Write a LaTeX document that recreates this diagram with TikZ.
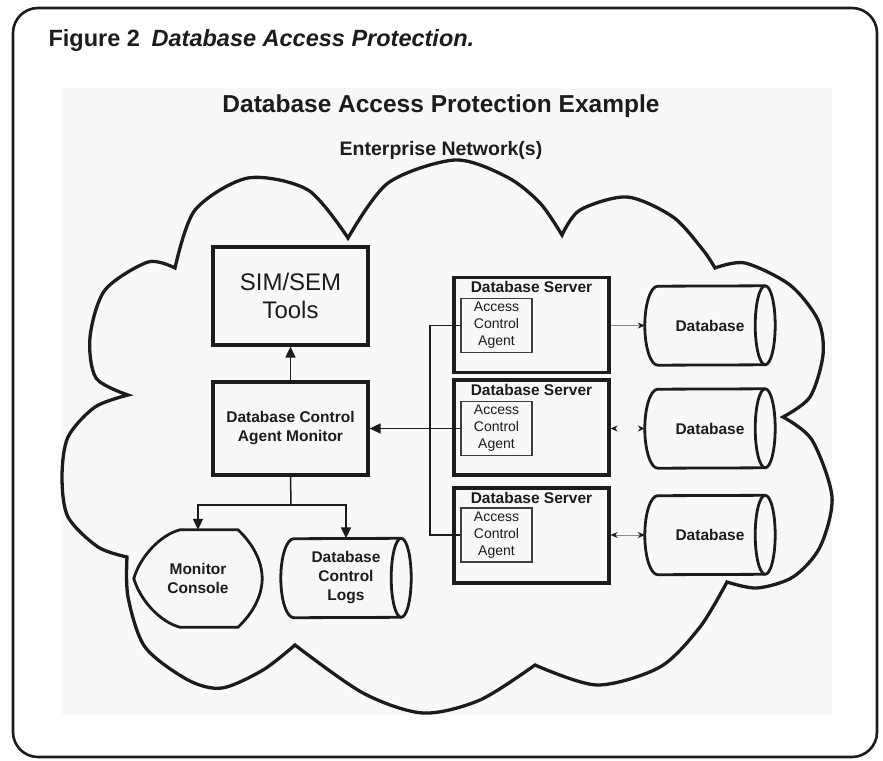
\documentclass[tikz,border=0pt]{standalone}
\usepackage{fontspec}
\setmainfont{Liberation Sans}
\usepackage{xcolor}
\usetikzlibrary{arrows.meta,shapes.geometric,calc,positioning}
\definecolor{ink1}{RGB}{28,28,28}
\definecolor{panel1}{RGB}{248,248,248}
\tikzset{
  bigtip/.tip={Triangle[length=11pt,width=10pt]},
  dbtip/.tip={Stealth[length=7pt,width=6pt,ink1]}
}

\begin{document}
\begin{tikzpicture}[x=1pt, y=-1pt, text=ink1,
    frame/.style={draw=ink1, line width=2.6pt, rounded corners=25pt},
    cloudline/.style={draw=ink1, line width=3.3pt, line join=miter},
    toolbox/.style={draw=ink1, line width=3.2pt, minimum width=155pt, inner sep=0pt, align=center},
    server/.style={draw=ink1, line width=3.2pt, minimum width=155pt, minimum height=95pt, inner sep=0pt},
    srvtitle/.style={inner sep=0pt, font=\bfseries\fontsize{15.5}{18}\selectfont},
    agent/.style={draw=ink1!85, line width=1.1pt, minimum width=71pt, minimum height=54pt, inner sep=0pt, align=center, font=\fontsize{14}{17}\selectfont},
    dbase/.style={minimum width=130pt, minimum height=79pt, inner sep=0pt, align=center, font=\bfseries\fontsize{15.5}{19}\selectfont},
    display/.style={minimum width=128pt, minimum height=97pt, inner sep=0pt, align=center, font=\bfseries\fontsize{15.5}{19}\selectfont},
    outline/.style={draw=ink1, line width=2.8pt},
    mainarrow/.style={-bigtip, line width=1.7pt, draw=ink1},
    wire/.style={line width=1.5pt, draw=ink1},
    datalink/.style={line width=0.8pt, draw=black!45}
]
    \useasboundingbox (0,0) rectangle (883,760);

    % frame and grey panel
    \draw[frame] (13,8) rectangle (877,757);
    \fill[panel1] (62,88) rectangle (832,715);

    \node[anchor=base west, name=fighead, font=\bfseries\fontsize{23.5}{28}\selectfont] at(45,47) {Figure 2\hspace{0.5em}\itshape Database Access Protection.};
    \node[anchor=base, name=title, font=\bfseries\fontsize{24.5}{29}\selectfont] at(441,112) {Database Access Protection Example};
    \node[anchor=base, name=network, font=\bfseries\fontsize{19.5}{23}\selectfont] at(441,155) {Enterprise Network(s)};

    % the network cloud, one lobe at a time
    \draw[cloudline] plot[smooth] coordinates {(128,395) (96,378) (90,337) (105,290) (148,262) (175,268)}
        -- plot[smooth] coordinates {(175,268) (195,210) (248,178) (308,190) (348,238)}
        -- plot[smooth] coordinates {(348,238) (388,183) (455,160) (507,177) (540,203) (562,235)}
        -- plot[smooth] coordinates {(562,235) (580,210) (627,197) (673,217) (703,250) (715,268)}
        -- plot[smooth] coordinates {(715,268) (745,263) (790,285) (818,320) (823,355) (810,397) (783,417)}
        -- plot[smooth] coordinates {(783,417) (812,440) (832,497) (820,547) (793,577) (757,588) (727,582)}
        -- plot[smooth] coordinates {(727,582) (700,627) (660,667) (597,685) (535,665)}
        -- plot[smooth] coordinates {(535,665) (480,700) (423,713) (363,693) (295,645)}
        -- plot[smooth] coordinates {(295,645) (263,670) (222,688) (188,680) (145,647) (128,597) (127,557)}
        -- plot[smooth] coordinates {(127,557) (98,547) (68,517) (62,477) (68,437) (95,407) (128,395)}
        -- cycle;

    % left column
    \node[toolbox, name=sim, minimum height=98pt, font=\fontsize{24}{28}\selectfont] at(290.5,296) {SIM/SEM\\Tools};
    \node[toolbox, name=mon, minimum height=93pt, font=\bfseries\fontsize{15.5}{19}\selectfont] at(290.5,428.5) {Database Control\\Agent Monitor};
    \node[display, name=console] at(198,578.5) {Monitor\\Console};
    \node[dbase, name=logs] at(346,578) {Database\\Control\\Logs};
    \draw[outline] ([xshift=-18pt]console.north) -- ([xshift=40pt]console.north)
        .. controls (252,543) and (262,560) .. (console.east)
        .. controls (262,597) and (252,614) .. ([xshift=40pt]console.south)
        -- ([xshift=-18pt]console.south)
        .. controls (160,622) and (140,600) .. (console.west)
        .. controls (140,557) and (160,535) .. cycle;

    % servers with their agents
    \foreach \i/\y/\ay in {1/325/325.5, 2/427.5/428.5, 3/535.5/535}{
        \node[server, name=srv\i] at(531.5,\y) {};
        \node[srvtitle, name=srvt\i] at(531.5,\y-38) {Database Server};
        \node[agent, name=acc\i] at(496.5,\ay) {Access\\Control\\Agent};
        \node[dbase, name=db\i] at(710,\ay) {Database};
    }

    % drum outlines round the storage nodes
    \foreach \n in {logs,db1,db2,db3}{
        \draw[outline] ([xshift=13pt]\n.south west) arc[start angle=90, end angle=270, x radius=13, y radius=39.5]
            -- ([xshift=-10pt]\n.north east) arc[start angle=270, end angle=450, x radius=10, y radius=39.5] -- cycle;
        \draw[outline] ([xshift=-10pt]\n.north east) arc[start angle=270, end angle=90, x radius=10, y radius=39.5];
    }

    \coordinate (bus) at(430,325.5);
    \coordinate (split) at(291,505);

    \draw[mainarrow] (mon) -- (sim);
    \draw[wire] (mon.south) -- (split);
    \draw[mainarrow] (split) -| (console.north);
    \draw[mainarrow] (split) -| (logs.north);

    \draw[wire] (acc1.west) -- (bus) |- (acc3.west);
    \draw[mainarrow] (acc2.west) -- (mon.east);

    \draw[datalink, -dbtip] (srv1.east |- db1.west) -- (db1.west);
    \draw[datalink, draw=panel1, dbtip-dbtip] (srv2.east |- db2.west) -- (db2.west);
    \draw[datalink, dbtip-dbtip] (srv3.east |- db3.west) -- (db3.west);
\end{tikzpicture}
\end{document}
